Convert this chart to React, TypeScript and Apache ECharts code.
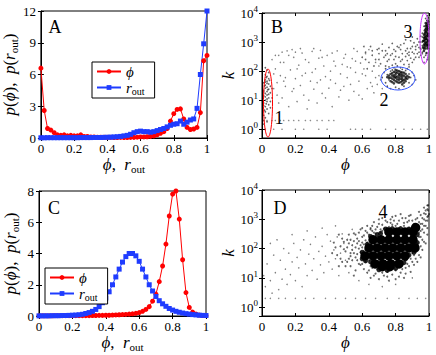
import React, { useEffect, useRef } from "react";
import * as echarts from "echarts";

const FONT = '"Liberation Serif", "DejaVu Serif", "Times New Roman", serif';

// bin positions (phi or r_out) for panels A and C
const bins = [0, 0.02, 0.04, 0.06, 0.08, 0.1, 0.12, 0.14, 0.16, 0.18, 0.2, 0.22, 0.24, 0.26, 0.28, 0.3, 0.32, 0.34, 0.36, 0.38, 0.4, 0.42, 0.44, 0.46, 0.48, 0.5, 0.52, 0.54, 0.56, 0.58, 0.6, 0.62, 0.64, 0.66, 0.68, 0.7, 0.72, 0.74, 0.76, 0.78, 0.8, 0.82, 0.84, 0.86, 0.88, 0.9, 0.92, 0.94, 0.96, 0.98, 1];

// Panel A
const aPhi = [6.6, 2.6, 0.9, 0.75, 0.5, 0.3, 0.25, 0.3, 0.2, 0.25, 0.2, 0.2, 0.3, 0.15, 0.15, 0.1, 0.1, 0.08, 0.08, 0.07, 0.06, 0.06, 0.05, 0.05, 0.06, 0.05, 0.05, 0.06, 0.06, 0.08, 0.1, 0.1, 0.12, 0.15, 0.2, 0.3, 0.45, 0.6, 0.9, 1.6, 2.3, 2.7, 2.75, 1.8, 1.0, 0.8, 0.85, 1.0, 2.4, 7.3, 7.8];
const aRout = [0.02, 0.02, 0.03, 0.03, 0.03, 0.03, 0.03, 0.03, 0.03, 0.03, 0.03, 0.03, 0.04, 0.04, 0.04, 0.04, 0.05, 0.05, 0.05, 0.06, 0.07, 0.08, 0.1, 0.12, 0.15, 0.2, 0.25, 0.35, 0.5, 0.6, 0.65, 0.6, 0.6, 0.55, 0.6, 0.7, 0.8, 0.9, 1.05, 1.2, 1.3, 1.35, 1.6, 1.3, 1.5, 1.7, 1.8, 2.8, 6.0, 8.9, 12];

// Panel C
const cPhi = [0.01, 0.01, 0.01, 0.01, 0.01, 0.02, 0.02, 0.02, 0.02, 0.02, 0.02, 0.02, 0.02, 0.02, 0.02, 0.02, 0.03, 0.03, 0.04, 0.04, 0.05, 0.05, 0.06, 0.07, 0.08, 0.09, 0.1, 0.12, 0.14, 0.17, 0.22, 0.3, 0.42, 0.6, 0.95, 1.4, 2.2, 3.2, 4.6, 6.4, 7.8, 8.0, 6.2, 3.6, 1.5, 0.55, 0.25, 0.12, 0.06, 0.03, 0.02];
const cRout = [0.01, 0.01, 0.01, 0.01, 0.02, 0.02, 0.02, 0.03, 0.03, 0.04, 0.05, 0.06, 0.08, 0.11, 0.16, 0.22, 0.3, 0.42, 0.6, 0.85, 1.15, 1.55, 2.0, 2.5, 3.0, 3.45, 3.8, 4.0, 4.0, 3.85, 3.5, 3.0, 2.5, 2.0, 1.6, 1.25, 0.98, 0.78, 0.62, 0.48, 0.38, 0.3, 0.24, 0.19, 0.15, 0.12, 0.09, 0.07, 0.05, 0.04, 0.03];

// Panel B: [phi, k]
const bCluster1 = [[0.01, 3], [0.02, 4], [0.03, 5], [0.02, 6], [0.04, 7], [0.01, 8], [0.03, 9], [0.02, 10], [0.04, 12], [0.01, 14], [0.03, 15], [0.02, 17], [0.05, 18], [0.03, 20], [0.01, 22], [0.04, 24], [0.02, 26], [0.03, 28], [0.05, 30], [0.02, 33], [0.04, 36], [0.01, 40], [0.03, 45], [0.02, 50], [0.04, 55], [0.03, 65], [0.02, 75], [0.04, 90], [0.03, 110], [0.02, 2.5], [0.04, 3.5], [0.05, 5.5], [0.01, 6.5], [0.03, 11], [0.02, 13], [0.04, 16], [0.01, 19], [0.05, 9], [0.03, 38], [0.02, 42], [0.01, 1.5], [0.03, 1.8], [0.06, 12], [0.06, 25], [0.02, 130], [0.01, 2], [0.025, 7.5], [0.035, 23], [0.015, 31], [0.045, 48], [0.025, 60], [0.015, 4.5]];
const bCluster2Core = [[0.76, 70], [0.78, 85], [0.78, 55], [0.8, 90], [0.8, 65], [0.8, 45], [0.82, 80], [0.82, 60], [0.82, 40], [0.84, 75], [0.84, 52], [0.84, 35], [0.86, 62], [0.86, 45], [0.79, 38], [0.81, 105], [0.83, 95], [0.77, 45], [0.85, 88], [0.87, 55], [0.81, 52], [0.83, 68], [0.79, 72], [0.85, 40], [0.77, 60], [0.78, 70], [0.79, 50], [0.79, 95], [0.8, 78], [0.8, 110], [0.81, 65], [0.81, 42], [0.82, 72], [0.82, 100], [0.82, 50], [0.83, 55], [0.83, 82], [0.83, 42], [0.84, 62], [0.84, 90], [0.85, 70], [0.85, 50], [0.86, 80], [0.86, 55], [0.87, 68], [0.76, 58], [0.77, 80], [0.78, 42], [0.8, 58], [0.81, 88], [0.84, 45], [0.79, 62], [0.88, 62], [0.75, 62]];
const bCluster2Halo = [[0.72, 60], [0.73, 90], [0.74, 40], [0.74, 120], [0.75, 30], [0.76, 140], [0.77, 25], [0.78, 110], [0.79, 130], [0.8, 28], [0.81, 150], [0.82, 25], [0.83, 130], [0.84, 115], [0.85, 30], [0.86, 105], [0.87, 120], [0.88, 40], [0.88, 80], [0.89, 60], [0.9, 90], [0.9, 35], [0.91, 70], [0.75, 75], [0.76, 50], [0.77, 100], [0.88, 140], [0.92, 50]];
const bBand = [[0.6, 300], [0.62, 450], [0.64, 200], [0.65, 700], [0.66, 350], [0.68, 250], [0.69, 550], [0.7, 400], [0.71, 180], [0.72, 850], [0.73, 300], [0.74, 500], [0.75, 220], [0.76, 650], [0.77, 350], [0.78, 900], [0.79, 250], [0.8, 480], [0.8, 180], [0.81, 700], [0.82, 300], [0.83, 220], [0.83, 550], [0.84, 400], [0.85, 900], [0.85, 170], [0.86, 320], [0.87, 600], [0.87, 230], [0.88, 450], [0.89, 1100], [0.89, 280], [0.9, 700], [0.9, 200], [0.91, 400], [0.91, 950], [0.92, 550], [0.92, 300], [0.93, 800], [0.93, 1300], [0.94, 450], [0.94, 650], [0.95, 1000], [0.95, 350], [0.96, 750], [0.96, 1500], [0.7, 600], [0.74, 150], [0.78, 160], [0.86, 1200], [0.88, 170], [0.9, 1500], [0.67, 150], [0.63, 120], [0.61, 700], [0.97, 200], [0.62, 250], [0.66, 500], [0.7, 250], [0.72, 500], [0.74, 350], [0.76, 250], [0.78, 400], [0.8, 320], [0.82, 650], [0.84, 250], [0.86, 500], [0.88, 350], [0.9, 450], [0.92, 700], [0.93, 400], [0.94, 300], [0.95, 550], [0.96, 400], [0.91, 250], [0.87, 400], [0.83, 800], [0.79, 550], [0.75, 400], [0.89, 600]];
const bCluster3Core = [[0.97, 500], [0.98, 600], [0.99, 700], [0.97, 800], [0.98, 1000], [0.99, 1200], [0.97, 1400], [0.98, 1700], [0.99, 2000], [0.975, 2500], [0.985, 3000], [0.99, 3500], [0.98, 4500], [0.99, 5500], [0.975, 900], [0.985, 1300], [0.995, 800], [0.995, 1600], [0.995, 2800], [0.965, 650], [0.965, 1100], [0.985, 420], [0.995, 4000], [0.98, 2200], [0.97, 600], [0.975, 700], [0.98, 800], [0.985, 900], [0.99, 1000], [0.995, 1100], [0.97, 1100], [0.975, 1200], [0.98, 1300], [0.985, 1500], [0.99, 1700], [0.995, 1900], [0.97, 1800], [0.975, 2000], [0.985, 2300], [0.99, 2600], [0.995, 3200], [0.98, 3500], [0.985, 4000], [0.99, 4500], [0.995, 5000], [0.98, 2800], [0.975, 1500], [0.99, 800], [0.995, 600]];
const bCluster3Halo = [[0.95, 600], [0.96, 450], [0.96, 1000], [0.96, 2000], [0.97, 3500], [0.98, 6500], [0.99, 8000], [0.97, 300], [0.98, 350], [0.99, 250], [0.995, 6800], [0.95, 1600], [0.94, 1000]];
const bSparse = [[0.06, 250], [0.07, 25], [0.08, 120], [0.09, 40], [0.1, 350], [0.1, 8], [0.11, 70], [0.12, 12], [0.12, 450], [0.13, 200], [0.14, 30], [0.15, 500], [0.16, 6], [0.17, 110], [0.18, 20], [0.18, 550], [0.19, 300], [0.2, 55], [0.21, 9], [0.22, 160], [0.23, 32], [0.24, 420], [0.25, 15], [0.26, 85], [0.27, 5], [0.28, 200], [0.29, 45], [0.3, 480], [0.31, 24], [0.32, 120], [0.33, 8], [0.34, 280], [0.35, 50], [0.36, 17], [0.37, 150], [0.38, 65], [0.39, 350], [0.4, 26], [0.41, 100], [0.42, 6], [0.43, 220], [0.44, 38], [0.45, 500], [0.46, 13], [0.47, 80], [0.48, 170], [0.49, 30], [0.5, 380], [0.51, 60], [0.52, 10], [0.53, 130], [0.54, 270], [0.55, 20], [0.56, 90], [0.57, 480], [0.58, 45], [0.59, 190], [0.6, 11], [0.61, 120], [0.62, 70], [0.63, 25], [0.64, 550], [0.65, 40], [0.66, 100], [0.67, 18], [0.68, 60], [0.69, 35], [0.7, 150], [0.71, 50], [0.72, 25], [0.55, 600], [0.35, 520], [0.23, 600], [0.08, 350], [0.42, 420], [0.07, 80], [0.09, 15], [0.11, 200], [0.14, 60], [0.16, 350], [0.19, 25], [0.21, 120], [0.24, 70], [0.26, 250], [0.28, 10], [0.3, 90], [0.33, 40], [0.36, 300], [0.38, 12], [0.41, 50], [0.44, 150], [0.47, 22], [0.49, 280], [0.51, 140], [0.53, 35], [0.56, 220], [0.58, 15], [0.6, 80], [0.62, 400], [0.66, 30], [0.68, 200], [0.7, 70], [0.13, 45], [0.2, 450], [0.31, 600]];
const bRows = [[0.03, 2], [0.06, 2], [0.08, 2], [0.11, 2], [0.13, 2], [0.16, 2], [0.19, 2], [0.22, 2], [0.26, 2], [0.29, 2], [0.33, 2], [0.36, 2], [0.4, 2], [0.43, 2], [0.02, 1], [0.07, 1], [0.12, 1], [0.2, 1], [0.25, 1], [0.34, 1], [0.39, 1], [0.53, 1], [0.56, 1], [0.6, 1], [0.65, 1], [0.74, 1], [0.8, 1], [0.85, 1], [0.9, 1], [0.95, 1], [0.99, 1]];

// Panel D: [phi, k]
const dCore = [[0.76, 370], [0.808, 370], [0.856, 370], [0.904, 370], [0.665, 200], [0.713, 200], [0.76, 200], [0.808, 200], [0.856, 200], [0.904, 200], [0.641, 105], [0.689, 105], [0.737, 105], [0.784, 105], [0.832, 105], [0.88, 105], [0.916, 105], [0.617, 56], [0.665, 56], [0.713, 56], [0.76, 56], [0.808, 56], [0.856, 56], [0.677, 30], [0.725, 30], [0.772, 30], [0.82, 30], [0.72, 24], [0.765, 24], [0.92, 520]];
const dEdge = [[0.74, 470], [0.78, 480], [0.83, 480], [0.88, 470], [0.6, 75], [0.63, 140], [0.65, 260], [0.69, 300], [0.71, 330], [0.65, 35], [0.7, 19], [0.75, 18], [0.8, 21], [0.85, 33], [0.88, 60], [0.93, 300], [0.93, 160], [0.91, 75], [0.6, 45], [0.86, 45], [0.62, 38]];
const dHalo = [[0.45, 60], [0.47, 120], [0.48, 35], [0.5, 80], [0.51, 200], [0.52, 45], [0.53, 25], [0.54, 130], [0.55, 70], [0.56, 300], [0.56, 18], [0.57, 40], [0.58, 100], [0.58, 180], [0.59, 28], [0.6, 60], [0.6, 250], [0.61, 140], [0.61, 20], [0.62, 400], [0.62, 35], [0.46, 25], [0.49, 170], [0.53, 55], [0.55, 12], [0.57, 220], [0.59, 75], [0.63, 15], [0.65, 10], [0.66, 22], [0.68, 14], [0.7, 9], [0.71, 18], [0.73, 12], [0.75, 16], [0.76, 8], [0.78, 13], [0.8, 18], [0.82, 11], [0.84, 20], [0.86, 14], [0.88, 25], [0.9, 35], [0.92, 45], [0.69, 20], [0.74, 24], [0.79, 22], [0.83, 28], [0.87, 30], [0.6, 500], [0.63, 600], [0.65, 450], [0.67, 800], [0.69, 550], [0.7, 1000], [0.72, 650], [0.74, 900], [0.75, 500], [0.77, 750], [0.78, 1200], [0.8, 600], [0.82, 900], [0.83, 1500], [0.85, 750], [0.86, 1100], [0.88, 900], [0.89, 1400], [0.67, 350], [0.71, 450], [0.76, 550], [0.64, 300], [0.92, 80], [0.93, 150], [0.94, 250], [0.95, 400], [0.95, 120], [0.96, 700], [0.96, 200], [0.97, 1000], [0.97, 350], [0.98, 1500], [0.98, 600], [0.99, 2200], [0.99, 900], [0.995, 3000], [0.995, 1300], [0.94, 60], [0.96, 90], [0.98, 150], [0.99, 300], [0.92, 1000], [0.94, 1800], [0.97, 2500], [0.91, 60], [0.62, 90], [0.63, 160], [0.64, 40], [0.65, 250], [0.66, 30], [0.68, 330], [0.7, 40], [0.72, 400], [0.74, 30], [0.79, 480], [0.81, 30], [0.84, 40], [0.87, 60], [0.88, 500], [0.9, 70], [0.92, 250], [0.93, 400], [0.91, 150], [0.89, 45], [0.5, 25], [0.51, 110], [0.52, 300], [0.53, 70], [0.54, 40], [0.55, 180], [0.56, 110], [0.57, 65], [0.58, 350], [0.59, 130], [0.6, 30], [0.6, 160], [0.61, 80], [0.61, 280], [0.62, 55], [0.62, 190], [0.63, 45], [0.63, 350], [0.64, 120], [0.64, 70], [0.65, 500], [0.65, 25], [0.66, 400], [0.52, 150], [0.54, 90], [0.56, 50], [0.58, 30], [0.6, 110], [0.47, 45], [0.49, 95], [0.51, 35], [0.53, 200], [0.55, 330], [0.57, 150], [0.59, 450], [0.48, 220], [0.44, 110], [0.42, 70], [0.43, 160], [0.46, 300], [0.66, 600], [0.68, 450], [0.7, 700], [0.71, 350], [0.73, 480], [0.75, 800], [0.76, 420], [0.78, 650], [0.79, 900], [0.81, 700], [0.82, 500], [0.84, 1100], [0.85, 600], [0.87, 800], [0.88, 1300], [0.9, 900], [0.91, 700], [0.93, 1100], [0.94, 800], [0.95, 1400], [0.72, 1100], [0.77, 1000], [0.8, 1300], [0.64, 18], [0.67, 12], [0.7, 25], [0.72, 15], [0.75, 11], [0.77, 19], [0.8, 9], [0.81, 24], [0.83, 15], [0.85, 10], [0.86, 22], [0.89, 16], [0.91, 28], [0.93, 35], [0.95, 50], [0.93, 550], [0.94, 350], [0.95, 700], [0.96, 1100], [0.96, 450], [0.97, 1600], [0.97, 600], [0.98, 2000], [0.98, 900], [0.99, 1200], [0.99, 3000], [0.995, 2000], [0.95, 250], [0.97, 170], [0.99, 500], [1.0, 1500]];
const dSparse = [[0.01, 12], [0.02, 5], [0.03, 30], [0.05, 8], [0.06, 3], [0.07, 60], [0.08, 15], [0.1, 4], [0.11, 40], [0.12, 9], [0.13, 100], [0.14, 20], [0.15, 6], [0.16, 70], [0.17, 13], [0.18, 35], [0.19, 150], [0.2, 8], [0.21, 50], [0.22, 22], [0.23, 90], [0.24, 5], [0.25, 200], [0.26, 30], [0.27, 12], [0.28, 65], [0.29, 140], [0.3, 18], [0.31, 45], [0.32, 250], [0.33, 9], [0.34, 80], [0.35, 28], [0.36, 120], [0.37, 15], [0.38, 55], [0.39, 300], [0.4, 35], [0.41, 180], [0.42, 20], [0.43, 90], [0.44, 45], [0.45, 250], [0.46, 12], [0.47, 70], [0.48, 320], [0.49, 150], [0.5, 40], [0.05, 150], [0.09, 200], [0.18, 300], [0.27, 400], [0.36, 500], [0.44, 600], [0.52, 15], [0.54, 450], [0.58, 8], [0.64, 6], [0.72, 5], [0.8, 6], [0.9, 10]];
const dRows = [[0.02, 2], [0.05, 2], [0.1, 2], [0.14, 2], [0.2, 2], [0.26, 2], [0.31, 2], [0.38, 2], [0.44, 2], [0.5, 2], [0.56, 2], [0.62, 2], [0.68, 2], [0.75, 2], [0.82, 2], [0.88, 2], [0.93, 2], [0.98, 2]];

const RED = "#ff0000";
const BLUE = "#1f3cff";

const richBase = {
  i: { fontStyle: "italic", fontFamily: FONT, fontSize: 17, color: "#000" },
  s: { fontFamily: FONT, fontSize: 11, padding: [8, 0, 0, 0], color: "#000" },
};

function linX(grid: number, name: string | null, bottom: boolean) {
  return {
    type: "value",
    gridIndex: grid,
    position: bottom ? "bottom" : "top",
    min: 0,
    max: 1,
    interval: 0.2,
    name: bottom ? name : null,
    nameLocation: "middle",
    nameGap: 17,
    nameTextStyle: { fontFamily: FONT, fontSize: 17, color: "#000", rich: richBase },
    axisLine: { show: bottom, lineStyle: { color: "#000", width: 1 } },
    axisTick: { show: true, inside: true, length: 3, lineStyle: { color: "#000" } },
    axisLabel: { show: bottom, fontFamily: FONT, fontSize: 13, color: "#000", margin: 4 },
    splitLine: { show: false },
  };
}

function linY(grid: number, max: number, interval: number, name: string | null, left: boolean) {
  return {
    type: "value",
    gridIndex: grid,
    position: left ? "left" : "right",
    min: 0,
    max,
    interval,
    name: left ? name : null,
    nameLocation: "middle",
    nameGap: 19,
    nameRotate: 90,
    nameTextStyle: { fontFamily: FONT, fontSize: 17, color: "#000", rich: richBase },
    axisLine: { show: left, lineStyle: { color: "#000", width: 1 } },
    axisTick: { show: true, inside: true, length: 3, lineStyle: { color: "#000" } },
    axisLabel: { show: left, fontFamily: FONT, fontSize: 13, color: "#000", margin: 5 },
    splitLine: { show: false },
  };
}

function logY(grid: number, left: boolean) {
  return {
    type: "log",
    logBase: 10,
    gridIndex: grid,
    position: left ? "left" : "right",
    min: 0.5,
    max: 10000,
    name: left ? "{i|k}" : null,
    nameLocation: "middle",
    nameGap: 24,
    nameRotate: 90,
    nameTextStyle: { fontFamily: FONT, fontSize: 17, color: "#000", rich: richBase },
    axisLine: { show: left, lineStyle: { color: "#000", width: 1 } },
    axisTick: { show: true, inside: true, length: 3, lineStyle: { color: "#000" } },
    axisLabel: {
      show: left,
      fontFamily: FONT,
      fontSize: 13,
      color: "#000",
      margin: 4,
      formatter: (v: number) => {
        const e = Math.log10(v);
        if (Math.abs(e - Math.round(e)) > 1e-6) return "";
        return "10{sup|" + Math.round(e) + "}";
      },
      rich: { sup: { fontFamily: FONT, fontSize: 9, padding: [0, 0, 8, 0], color: "#000" } },
    },
    splitLine: { show: false },
  };
}

function lineSeries(name: string, xi: number, vals: number[], color: string, symbol: string, size: number) {
  return {
    type: "line",
    name,
    xAxisIndex: xi,
    yAxisIndex: xi,
    data: bins.map((b, i) => [b, vals[i]]),
    symbol,
    symbolSize: size,
    showSymbol: true,
    lineStyle: { color, width: 1 },
    itemStyle: { color, borderWidth: 0 },
    silent: true,
  };
}

function scatter(data: number[][], xi: number, size: number, opacity: number) {
  return {
    type: "scatter",
    xAxisIndex: xi,
    yAxisIndex: xi,
    data,
    symbol: "circle",
    symbolSize: size,
    itemStyle: { color: "#000", opacity },
    silent: true,
  };
}

function legendAt(left: number, top: number) {
  return {
    left,
    top,
    orient: "vertical",
    data: ["ϕ", "r_out"],
    itemWidth: 24,
    itemHeight: 6,
    itemGap: 1,
    padding: [2, 10, 2, 4],
    borderColor: "#000",
    borderWidth: 1,
    backgroundColor: "#fff",
    selectedMode: false,
    formatter: (n: string) => (n === "r_out" ? "{i|r}{s|out}" : "{i|ϕ}"),
    textStyle: {
      fontFamily: FONT,
      fontSize: 15,
      color: "#000",
      rich: {
        i: { fontStyle: "italic", fontFamily: FONT, fontSize: 15, color: "#000" },
        s: { fontFamily: FONT, fontSize: 10, padding: [7, 0, 0, 0], color: "#000" },
      },
    },
  };
}

function label(text: string, x: number, y: number) {
  return {
    type: "text",
    x,
    y,
    z: 100,
    style: { text, fontFamily: FONT, fontSize: 18, fill: "#000", align: "center", verticalAlign: "middle" },
  };
}

export default function App() {
  const ref = useRef<HTMLDivElement>(null);
  useEffect(() => {
    if (!ref.current) return;
    const chart = echarts.init(ref.current, null, { renderer: "svg" });
    const yNameP = "{i|p}({i|ϕ}),  {i|p}({i|r}{s|out})";
    const xNameP = "{i|ϕ},  {i|r}{s|out}";
    chart.setOption({
      animation: false,
      backgroundColor: "#fff",
      grid: [
        { left: 40, top: 11, width: 167, height: 127, show: true, borderColor: "#000", borderWidth: 1 },
        { left: 262, top: 13, width: 167, height: 125, show: true, borderColor: "#000", borderWidth: 1 },
        { left: 39, top: 191, width: 167, height: 125, show: true, borderColor: "#000", borderWidth: 1 },
        { left: 262, top: 190, width: 167, height: 126, show: true, borderColor: "#000", borderWidth: 1 },
      ],
      xAxis: [
        linX(0, xNameP, true), linX(0, null, false),
        linX(1, "{i|ϕ}", true), linX(1, null, false),
        linX(2, xNameP, true), linX(2, null, false),
        linX(3, "{i|ϕ}", true), linX(3, null, false),
      ],
      yAxis: [
        linY(0, 12, 3, yNameP, true), linY(0, 12, 3, null, false),
        logY(1, true), logY(1, false),
        linY(2, 8, 2, yNameP, true), linY(2, 8, 2, null, false),
        logY(3, true), logY(3, false),
      ],
      legend: [legendAt(92, 62), legendAt(45, 268)],
      series: [
        lineSeries("ϕ", 0, aPhi, RED, "circle", 5),
        lineSeries("r_out", 0, aRout, BLUE, "rect", 5),
        scatter(bSparse, 2, 1.5, 0.5),
        scatter(bRows, 2, 1.5, 0.45),
        scatter(bCluster1, 2, 1.7, 0.6),
        scatter(bBand, 2, 1.7, 0.6),
        scatter(bCluster2Halo, 2, 1.7, 0.65),
        scatter(bCluster2Core, 2, 2.6, 0.75),
        scatter(bCluster3Halo, 2, 1.7, 0.65),
        scatter(bCluster3Core, 2, 2.6, 0.8),
        lineSeries("ϕ", 4, cPhi, RED, "circle", 5),
        lineSeries("r_out", 4, cRout, BLUE, "rect", 5),
        scatter(dSparse, 6, 1.5, 0.5),
        scatter(dRows, 6, 1.5, 0.45),
        scatter(dHalo, 6, 2, 0.6),
        scatter(dEdge, 6, 5, 0.85),
        scatter(dCore, 6, 9.5, 1),
      ],
      graphic: [
        { type: "ellipse", z: 100, shape: { cx: 268, cy: 103, rx: 4.5, ry: 34 }, style: { fill: "none", stroke: RED, lineWidth: 1 } },
        { type: "ellipse", z: 100, shape: { cx: 398, cy: 78.5, rx: 17, ry: 11.5 }, style: { fill: "none", stroke: "#3355ff", lineWidth: 1 } },
        { type: "ellipse", z: 100, shape: { cx: 424.5, cy: 38.5, rx: 4.5, ry: 25.5 }, style: { fill: "none", stroke: "#cc33ff", lineWidth: 1 } },
        label("A", 55, 27),
        label("B", 277, 27),
        label("C", 54, 208),
        label("D", 280, 208),
        label("1", 279, 118),
        label("2", 384, 100),
        label("3", 408, 32),
        label("4", 383, 212),
      ],
    });
    return () => chart.dispose();
  }, []);
  return <div ref={ref} style={{ position: "absolute", left: 0, top: 0, width: 436, height: 355 }} />;
}
